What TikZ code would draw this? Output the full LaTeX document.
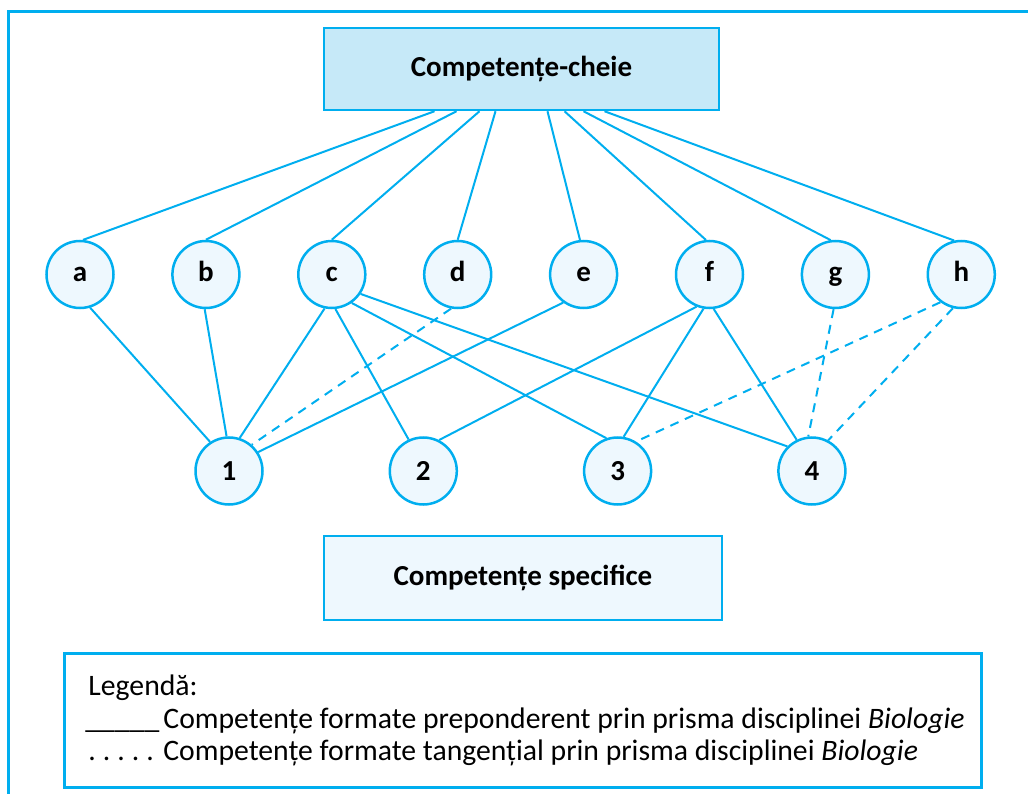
\documentclass[tikz,border=0pt]{standalone}
\usepackage{fontspec}
\setmainfont{Carlito}
\usepackage{tikz}
\usetikzlibrary{positioning}
\definecolor{compCyan}{HTML}{00AEEF}
\definecolor{compPanel}{HTML}{C6E9F8}
\definecolor{compLight}{HTML}{EEF8FE}

\begin{document}
\begin{tikzpicture}[x=1pt,y=-1pt,
  keybox/.style={draw=compCyan,line width=2.5pt,minimum width=395pt,minimum height=82pt,font=\fontsize{29}{34}\selectfont\bfseries},
  compnode/.style={circle,draw=compCyan,fill=compLight,line width=2.5pt,minimum size=67pt,inner sep=0pt,font=\fontsize{29}{34}\selectfont\bfseries},
  letternode/.style={compnode,text height=20pt,text depth=5pt},
  solidlink/.style={compCyan,line width=2pt},
  dashlink/.style={solidlink,dash pattern=on 9pt off 7pt},
  legendbox/.style={draw=compCyan,line width=2.5pt,minimum width=917pt,minimum height=134pt},
  legendtext/.style={align=left,inner sep=0pt,font=\fontsize{29.7}{32.5}\selectfont}]
  \useasboundingbox (0,0) rectangle (1028,794);
  \draw[compCyan,line width=3pt] (8.5,12) rectangle (1040,806);

  \node[keybox,fill=compPanel] (key) at (521.5,69) {Competențe-cheie};

  \node[letternode] (a) at (80,274.5) {a};
  \node[letternode,right=56.4pt of a] (b) {b};
  \node[letternode,right=56.4pt of b] (c) {c};
  \node[letternode,right=56.4pt of c] (d) {d};
  \node[letternode,right=56.4pt of d] (e) {e};
  \node[letternode,right=56.4pt of e] (f) {f};
  \node[letternode,right=56.4pt of f] (g) {g};
  \node[letternode,right=56.4pt of g] (h) {h};

  \node[compnode] (s1) at (229,471) {1};
  \node[compnode,right=124.8pt of s1] (s2) {2};
  \node[compnode,right=124.8pt of s2] (s3) {3};
  \node[compnode,right=124.8pt of s3] (s4) {4};

  \node[keybox,fill=compLight,minimum width=398pt,minimum height=84pt] (spec) at (523,578) {Competențe specifice};

  % key competences to the letters
  \draw[solidlink] ([xshift=-87pt]key.south) -- (a.85);
  \draw[solidlink] ([xshift=-65pt]key.south) -- (b.north);
  \draw[solidlink] ([xshift=-42pt]key.south) -- (c.north);
  \draw[solidlink] ([xshift=-26pt]key.south) -- (d.north);
  \draw[solidlink] ([xshift=26pt]key.south) -- (e.96);
  \draw[solidlink] ([xshift=43pt]key.south) -- (f.96);
  \draw[solidlink] ([xshift=62pt]key.south) -- (g.98);
  \draw[solidlink] ([xshift=83pt]key.south) -- (h.102);

  % letters to the specific competences
  \draw[solidlink] (a.-73) -- (s1.123);
  \draw[solidlink] (b.-92) -- (s1.94);
  \draw[solidlink] (c.-102) -- (s1.72);
  \draw[dashlink] (d.-101) -- (s1.49);
  \draw[solidlink] (e.-126) -- (s1.33);
  \draw[solidlink] (c.-84) -- (s2.115);
  \draw[solidlink] (f.-112) -- (s2.63);
  \draw[solidlink] (c.-55) -- (s3.109);
  \draw[solidlink] (c.-34) -- (s4.135);
  \draw[solidlink] (f.-100) -- (s3.80);
  \draw[solidlink] (f.-83) -- (s4.116);
  \draw[dashlink] (g.-93) -- (s4.96);
  \draw[dashlink] (h.-127) -- (s3.58);
  \draw[dashlink] (h.-104) -- (s4.62);

  \node[legendbox] (legend) at (523,720.5) {};
  \node[legendtext,anchor=west] (legendtxt) at ([xshift=25pt]legend.west) {Legendă:\\
    \makebox[75pt][l]{\kern-3pt\_\_\_\_\_}Competențe formate preponderent prin prisma disciplinei \textit{Biologie}\\
    \makebox[75pt][l]{.\hspace{7pt}.\hspace{7pt}.\hspace{7pt}.\hspace{7pt}.}Competențe formate tangențial prin prisma disciplinei \textit{Biologie}};
\end{tikzpicture}
\end{document}
